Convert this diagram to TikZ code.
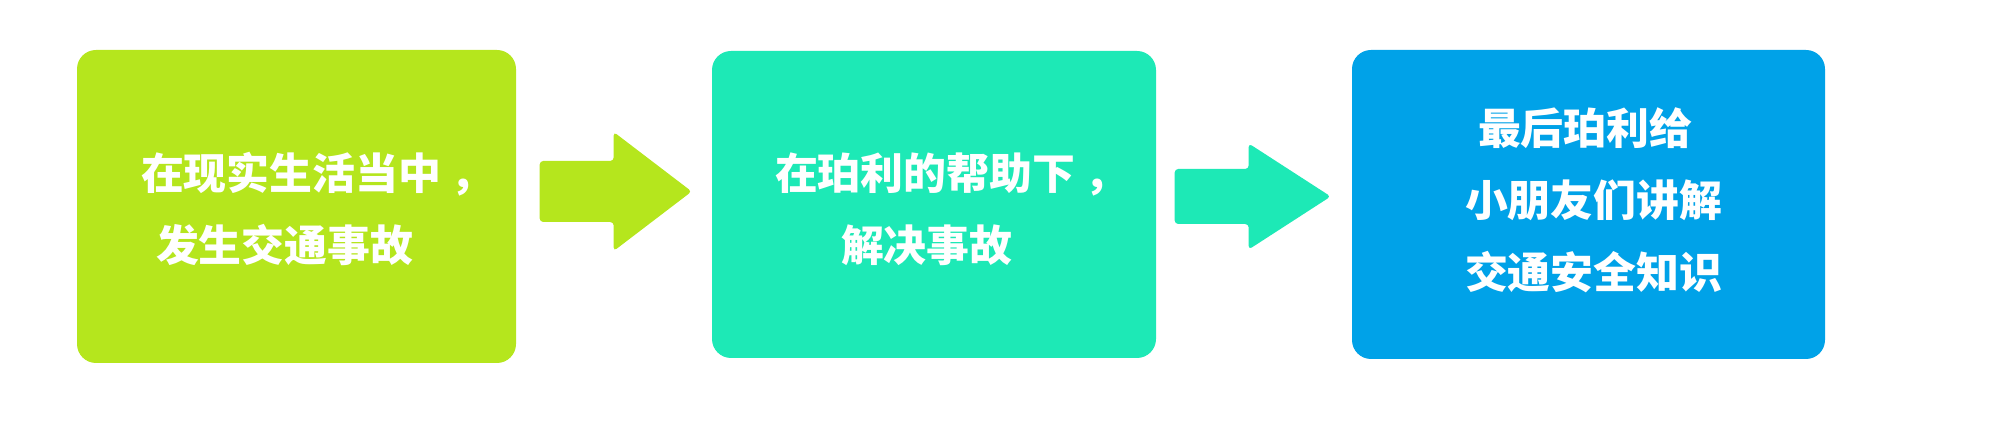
\documentclass[tikz,border=0pt]{standalone}
\usepackage{fontspec}
\usepackage{xcolor}
\usetikzlibrary{positioning, calc}
\newfontfamily\cjk{Noto Sans CJK SC}
\definecolor{limebox}{HTML}{B5E61D}
\definecolor{mintbox}{HTML}{1DE9B6}
\definecolor{bluebox}{HTML}{00A2E8}

\begin{document}
\begin{tikzpicture}[
    box/.style={rectangle, rounded corners=0.19cm, inner sep=0pt},
    txt/.style={anchor=west, inner sep=0pt, align=left, text=white,
        font=\cjk\bfseries\fontsize{12.2pt}{20.5pt}\selectfont}]
        \useasboundingbox (0,0) rectangle (20,-4.37);
        % the three boxes
        \node[box, fill=limebox, minimum width=4.39cm, minimum height=3.13cm] (b1) at (2.965,-2.065) {};
        \node[box, fill=mintbox, minimum width=4.44cm, minimum height=3.07cm] (b2) at (9.34,-2.045) {};
        \node[box, fill=bluebox, minimum width=4.73cm, minimum height=3.09cm] (b3) at (15.885,-2.045) {};
        \node[txt] (t1) at ($(b1.west)+(0.64,-0.025)$) {在现实生活当中\hspace{0.09cm}，\\\hspace*{0.15cm}发生交通事故};
        \node[txt] (t2) at ($(b2.west)+(0.63,-0.045)$) {在珀利的帮助下\hspace{0.09cm}，\\\hspace*{0.66cm}解决事故};
        \node[txt] (t3) at ($(b3.west)+(1.13,0.045)$) {\hspace*{0.13cm}最后珀利给\\小朋友们讲解\\交通安全知识};
        % block arrows between the boxes
        \fill[limebox, rounded corners=1pt] ($(b1.east)+(0.23,0.455)$) -- ++(0.74,0) -- ++(0,0.29) -- ++(0.78,-0.595)
            -- ++(-0.78,-0.595) -- ++(0,0.29) -- ++(-0.74,0) -- cycle;
        \fill[mintbox, rounded corners=1pt] ($(b2.east)+(0.18,0.355)$) -- ++(0.74,0) -- ++(0,0.255) -- ++(0.82,-0.53)
            -- ++(-0.82,-0.53) -- ++(0,0.255) -- ++(-0.74,0) -- cycle;
    \end{tikzpicture}
\end{document}
